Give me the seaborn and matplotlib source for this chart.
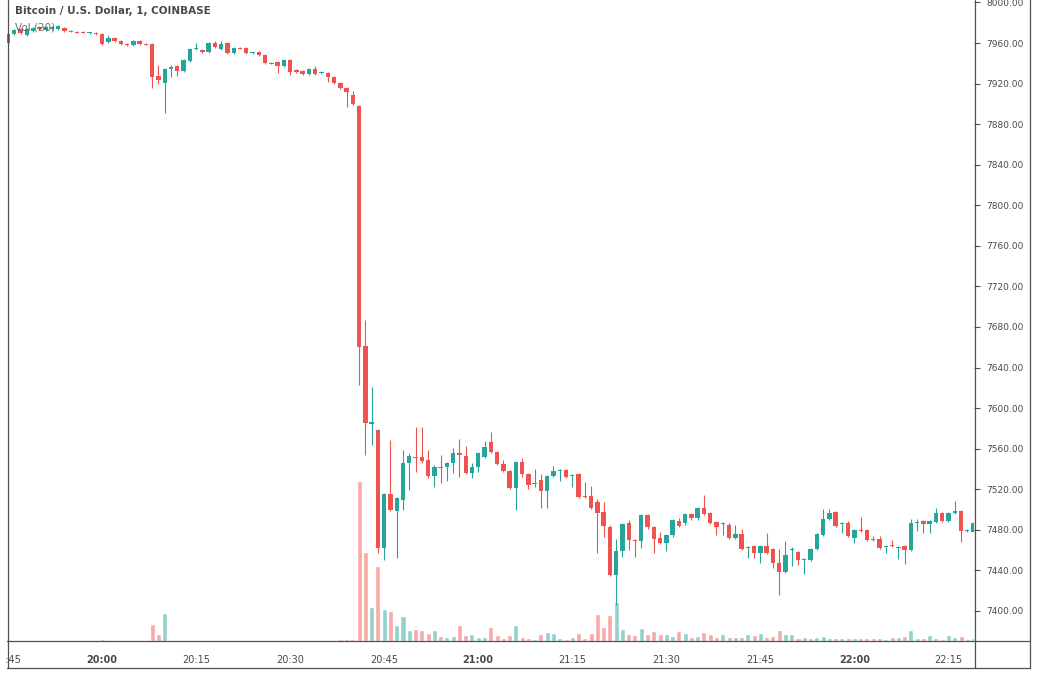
import numpy as np
import pandas as pd
import seaborn as sns
import matplotlib
matplotlib.use("Agg")
import matplotlib.pyplot as plt
from matplotlib.lines import Line2D
from matplotlib.transforms import Bbox, TransformedBbox

# 1-minute BTC/USD candles, 19:45 -> 22:19 (Coinbase)
opens = [
    7960, 7969, 7974, 7968, 7972, 7976, 7973, 7974, 7974, 7975,
    7972, 7971, 7971, 7969.5, 7970, 7969, 7961, 7965, 7962, 7959,
    7958, 7962, 7959, 7959, 7927, 7921, 7934, 7937, 7932, 7942,
    7954, 7953, 7951, 7960, 7954, 7960, 7950, 7955, 7955, 7950,
    7951, 7948, 7940.5, 7941, 7937, 7943, 7933, 7932, 7929, 7934,
    7930, 7930, 7926, 7921, 7916, 7909, 7898, 7661, 7584, 7578,
    7462, 7515, 7499, 7509, 7546, 7552, 7552, 7549, 7533, 7542,
    7542, 7546, 7556, 7553, 7536, 7542, 7552, 7567, 7557, 7545,
    7538, 7521, 7547, 7535, 7525, 7529, 7518, 7533, 7538, 7539,
    7533, 7535, 7513, 7513, 7507, 7498, 7483, 7435, 7459, 7487,
    7470, 7469, 7495, 7483, 7472, 7467, 7475, 7489, 7487, 7496,
    7492, 7502, 7497, 7488, 7486, 7485, 7472, 7476, 7462, 7464,
    7457, 7464, 7461, 7447, 7438, 7460, 7458, 7450, 7450, 7461,
    7475, 7491, 7498, 7486, 7487, 7472, 7480, 7480, 7471, 7471,
    7463, 7465, 7462, 7464, 7460, 7487, 7489, 7486, 7488, 7497,
    7489, 7497, 7499, 7479, 7478,
]
highs = [
    7970, 7974, 7975, 7975, 7976, 7977, 7977, 7977, 7978, 7976,
    7973, 7972, 7972, 7971, 7971, 7970, 7968, 7966, 7963, 7960,
    7963, 7963, 7960, 7960, 7938, 7935, 7938, 7938, 7944, 7955,
    7960, 7954, 7961, 7962, 7962, 7961, 7956, 7956, 7956, 7951,
    7952, 7949, 7941, 7942, 7944, 7944, 7934, 7933, 7935, 7937,
    7932, 7931, 7927, 7922, 7917, 7913, 7899, 7687, 7621, 7579,
    7516, 7569, 7512, 7559, 7556, 7581, 7581, 7559, 7544, 7554,
    7547, 7561, 7570, 7563, 7546, 7557, 7568, 7576, 7558, 7549,
    7539, 7548, 7551, 7536, 7540, 7535, 7534, 7543, 7540, 7540,
    7535, 7536, 7527, 7523, 7510, 7507, 7485, 7471, 7487, 7490,
    7471, 7496, 7496, 7484, 7478, 7476, 7491, 7492, 7497, 7497,
    7503, 7514, 7498, 7489, 7488, 7487, 7485, 7481, 7464, 7465,
    7465, 7477, 7462, 7461, 7469, 7463, 7459, 7452, 7462, 7477,
    7501, 7501, 7499, 7488, 7489, 7481, 7493, 7481, 7474, 7474,
    7465, 7470, 7464, 7465, 7491, 7491, 7490, 7490, 7502, 7498,
    7498, 7508, 7500, 7481, 7490,
]
lows = [
    7959, 7968, 7969, 7967, 7971, 7973, 7972, 7973, 7973, 7971,
    7971, 7970, 7970, 7969, 7968, 7958, 7960, 7961, 7958, 7957,
    7957, 7958, 7958, 7916, 7920, 7891, 7926, 7927, 7931, 7941,
    7953, 7950, 7950, 7955, 7953, 7949, 7949, 7954, 7949, 7949,
    7947, 7939, 7939, 7930, 7936, 7928, 7930, 7928, 7928, 7928,
    7929, 7922, 7920, 7915, 7897, 7899, 7623, 7554, 7564, 7457,
    7450, 7499, 7452, 7500, 7519, 7537, 7546, 7531, 7522, 7526,
    7528, 7536, 7532, 7535, 7531, 7537, 7551, 7556, 7544, 7537,
    7520, 7500, 7532, 7520, 7522, 7502, 7502, 7532, 7528, 7531,
    7522, 7511, 7511, 7501, 7457, 7473, 7434, 7406, 7453, 7460,
    7453, 7462, 7481, 7457, 7466, 7459, 7473, 7483, 7485, 7490,
    7490, 7495, 7486, 7475, 7475, 7471, 7471, 7460, 7452, 7452,
    7447, 7456, 7442, 7416, 7437, 7444, 7445, 7436, 7449, 7460,
    7474, 7490, 7483, 7477, 7473, 7467, 7478, 7469, 7469, 7461,
    7457, 7463, 7451, 7446, 7459, 7479, 7477, 7477, 7487, 7488,
    7488, 7496, 7468, 7478, 7477,
]
closes = [
    7969, 7973, 7970, 7974, 7975, 7974, 7976, 7976, 7977, 7972,
    7971, 7970, 7970, 7970.5, 7969, 7959, 7965, 7962, 7959, 7958,
    7962, 7959, 7958.5, 7926, 7924, 7934, 7936, 7932, 7943, 7954,
    7955, 7951, 7960, 7956, 7959, 7950, 7955, 7954, 7950, 7950.5,
    7948, 7940, 7939.5, 7937, 7943, 7931, 7931, 7929, 7934, 7929,
    7931, 7926, 7921, 7916, 7912, 7900, 7660, 7585, 7586, 7462,
    7515, 7500, 7511, 7546, 7553, 7551, 7548, 7533, 7542, 7541,
    7546, 7556, 7554, 7536, 7542, 7556, 7562, 7557, 7545, 7538,
    7521, 7547, 7535, 7524, 7526, 7518, 7533, 7538, 7539, 7532,
    7534, 7512, 7512, 7502, 7497, 7484, 7435, 7459, 7486, 7470,
    7469, 7495, 7483, 7471, 7467, 7475, 7490, 7484, 7496, 7492,
    7502, 7496, 7487, 7483, 7487, 7472, 7476, 7461, 7463, 7457,
    7464, 7457, 7447, 7438, 7455, 7461, 7450, 7451, 7461, 7476,
    7491, 7497, 7484, 7487, 7474, 7480, 7479, 7470, 7470, 7462,
    7464, 7464, 7463, 7460, 7487, 7488, 7486, 7489, 7497, 7489,
    7497, 7499, 7479, 7480, 7487,
]
volumes = [
    0.3, 0.3, 0.3, 0.3, 0.3, 0.3, 0.3, 0.3, 0.3, 0.3,
    0.3, 0.3, 0.3, 0.3, 0.3, 1.7, 0.5, 0.5, 0.5, 0.5,
    0.5, 0.5, 0.5, 17, 7, 28, 1, 1, 0.5, 1,
    0.5, 1, 1, 0.5, 1, 0.5, 0.5, 0.5, 0.5, 0.5,
    0.5, 1, 1, 1, 1, 0.5, 0.5, 0.5, 0.5, 1,
    0.5, 1, 1.2, 1.5, 2.2, 1.5, 160, 89, 34, 75,
    32, 30, 16, 25, 11, 12, 11, 8, 11, 5,
    4, 5, 16, 6, 7, 4, 4, 14, 6, 3,
    6, 16, 4, 3, 2, 7, 9, 8, 3, 2,
    4, 8, 3, 8, 27, 14, 26, 39, 12, 7,
    6, 13, 7, 10, 7, 7, 5, 10, 8, 4,
    5, 9, 7, 4, 7, 4, 4, 4, 7, 6,
    8, 4, 5, 11, 7, 7, 3, 4, 3, 4,
    5, 3, 3, 3, 3, 3, 3, 3, 3, 3,
    2, 4, 4, 5, 11, 3, 3, 6, 3, 2,
    6, 4, 5, 2, 3,
]
tick_minutes = [0, 15, 30, 45, 60, 75, 90, 105, 120, 135, 150]
tick_labels = ["19:45", "20:00", "20:15", "20:30", "20:45", "21:00",
               "21:15", "21:30", "21:45", "22:00", "22:15"]
price_ticks = list(range(7400, 8001, 40))

UP, DOWN = "#26a69a", "#ef5350"
VOL_UP, VOL_DOWN = "#92d2cc", "#f7a9a7"
TXT = "#4a4a4a"
LINE = "#505050"

df = pd.DataFrame({"open": opens, "high": highs, "low": lows,
                   "close": closes, "volume": volumes})
df["minute"] = np.arange(len(df))
df["direction"] = np.where(df["close"] >= df["open"], "up", "down")

sns.set_style("white")
plt.rcParams["font.family"] = ["DejaVu Sans"]

W, H = 1037, 675
fig = plt.figure(figsize=(W / 100, H / 100), dpi=100)
rect = [7 / W, (H - 641) / H, (974 - 7) / W, 641 / H]

# volume pane underneath
ax_vol = fig.add_axes(rect)
sns.barplot(data=df, x="minute", y="volume", hue="direction",
            palette={"up": VOL_UP, "down": VOL_DOWN}, native_scale=True,
            dodge=False, width=0.8, errorbar=None, saturation=1,
            legend=False, ax=ax_vol)
ax_vol.set_ylim(0, 4 * df["volume"].max())
ax_vol.set_xlabel("")
ax_vol.set_ylabel("")
ax_vol.set_yticks([])
for s in ax_vol.spines.values():
    s.set_visible(False)

# price pane on top
ax = fig.add_axes(rect, sharex=ax_vol)
ax.patch.set_alpha(0)
colors = np.where(df["direction"] == "up", UP, DOWN)
ax.vlines(df["minute"], df["low"], df["high"], colors=colors, linewidth=0.8)
body_low = np.minimum(df["open"], df["close"])
body_h = np.maximum((df["close"] - df["open"]).abs(), 1.0)
ax.bar(df["minute"], body_h, bottom=body_low, width=0.7, color=colors,
       linewidth=0)

ax.set_xlim(-0.16, 154.07)
ax.set_ylim(7370.4, 8002.4)
for s in ax.spines.values():
    s.set_visible(False)

ax.yaxis.tick_right()
ax.set_yticks(price_ticks)
ax.set_yticklabels([f"{p:.2f}" for p in price_ticks])
ax.tick_params(axis="y", length=4, width=0.8, color=LINE, pad=5,
               labelsize=6.5, labelcolor=TXT)

ax_vol.set_xticks(tick_minutes)
ax_vol.set_xticklabels(tick_labels)
ax_vol.tick_params(axis="x", length=4, width=0.8, color=LINE, pad=6,
                   labelsize=7, labelcolor=TXT)
ax.tick_params(axis="x", bottom=False, labelbottom=False)

clip = TransformedBbox(Bbox([[6 / W, 0], [1030 / W, 1]]), fig.transFigure)
for tick, lab in zip(ax_vol.xaxis.get_major_ticks(), tick_labels):
    tick.label1.set_clip_on(True)
    tick.label1.set_clip_box(clip)
    if lab.endswith(":00"):
        tick.label1.set_fontweight("bold")

# outer frame and pane separators
def fig_line(x0, y0, x1, y1):
    fig.add_artist(Line2D([x0 / W, x1 / W], [1 - y0 / H, 1 - y1 / H],
                          transform=fig.transFigure, color=LINE, lw=0.9))

fig_line(7.5, 0, 7.5, 668)
fig_line(7, 668, 1030, 668)
fig_line(1030, 0, 1030, 668)
fig_line(974.5, 0, 974.5, 668)
fig_line(7, 641, 1030, 641)

fig.text(15 / W, 1 - 10.5 / H, "Bitcoin / U.S. Dollar, 1, COINBASE",
         ha="left", va="center", fontsize=7.5, fontweight="bold", color=TXT)
fig.text(15 / W, 1 - 28 / H, "Vol (20)", ha="left", va="center",
         fontsize=7.5, color="#555555", alpha=0.85)

fig.savefig("out.png", dpi=100)
